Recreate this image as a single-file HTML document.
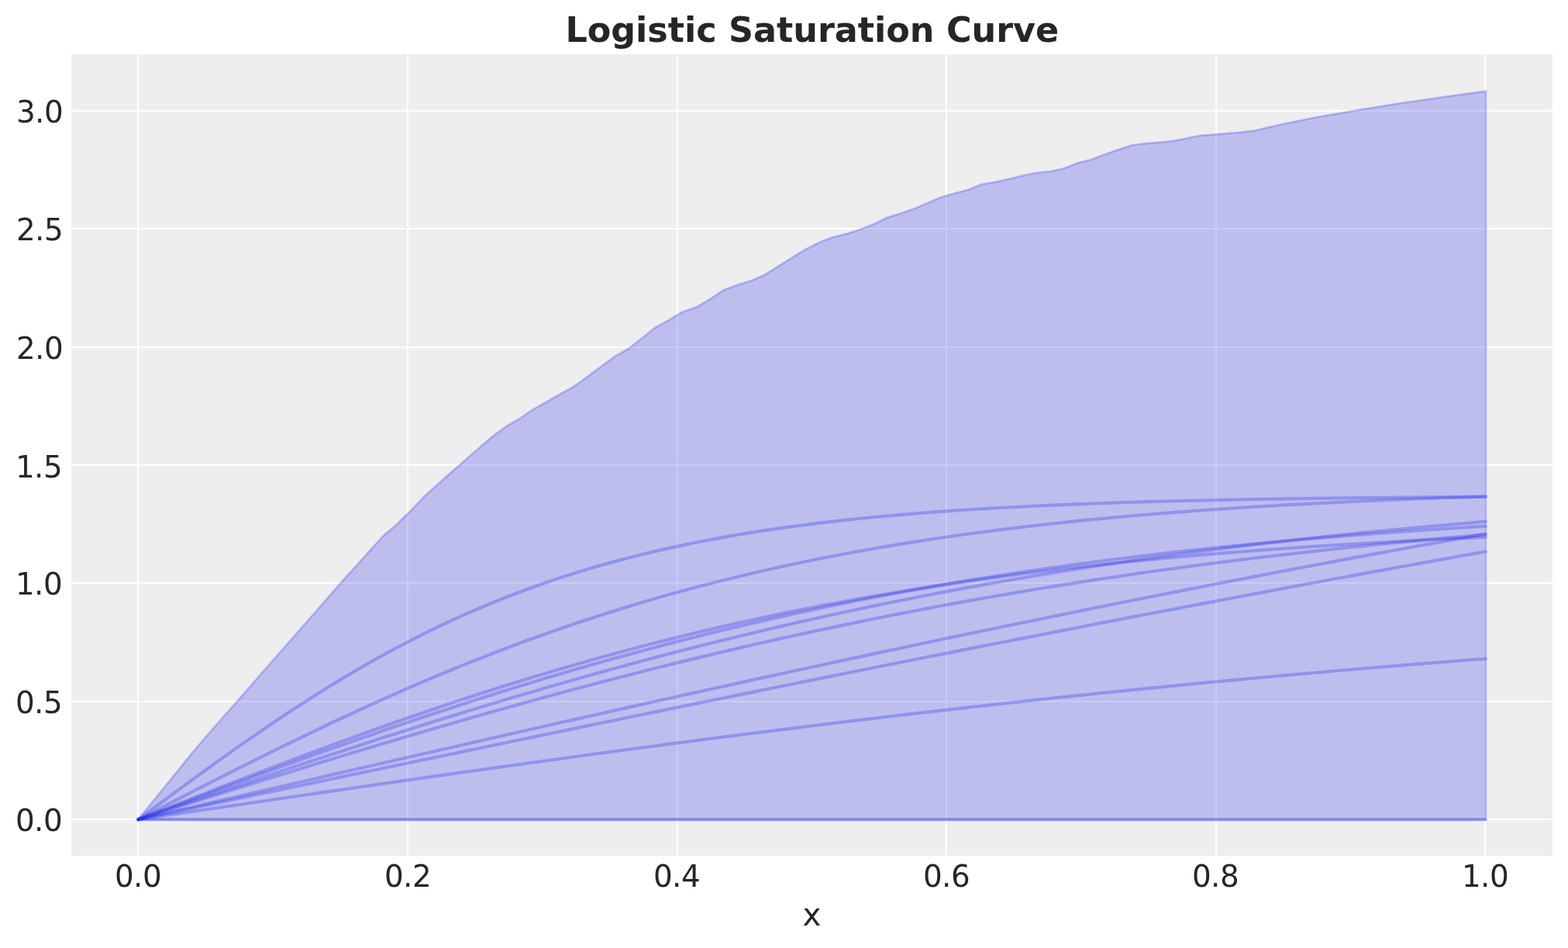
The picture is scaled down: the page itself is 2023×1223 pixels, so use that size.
<!DOCTYPE html>
<html lang="en">
<head>
<meta charset="utf-8">
<title>Logistic Saturation Curve</title>
<style>
html,body{margin:0;padding:0;background:#ffffff;}
body{width:2023px;height:1223px;overflow:hidden;}
svg{display:block;}
</style>
</head>
<body>
<svg width="2023" height="1223" viewBox="0 0 2023 1223">
<rect x="0" y="0" width="2023" height="1223" fill="#ffffff"/>
<rect x="92.0" y="70.0" width="1911.0" height="1034.0" fill="#eeeeee"/>
<g fill="#ffffff"><rect x="177" y="70.0" width="2" height="1034.0"/><rect x="525" y="70.0" width="2" height="1034.0"/><rect x="873" y="70.0" width="2" height="1034.0"/><rect x="1220" y="70.0" width="2" height="1034.0"/><rect x="1568" y="70.0" width="2" height="1034.0"/><rect x="1915" y="70.0" width="2" height="1034.0"/><rect x="92.0" y="1056" width="1911.0" height="2"/><rect x="92.0" y="904" width="1911.0" height="2"/><rect x="92.0" y="751" width="1911.0" height="2"/><rect x="92.0" y="599" width="1911.0" height="2"/><rect x="92.0" y="447" width="1911.0" height="2"/><rect x="92.0" y="294" width="1911.0" height="2"/><rect x="92.0" y="142" width="1911.0" height="2"/></g>
<path d="M178.5 1057.2 L196.06 1035.46 L213.62 1013.76 L231.18 992.09 L248.74 970.45 L266.3 949.78 L283.86 929.66 L301.42 909.85 L318.98 889.96 L336.55 869.65 L354.11 849.56 L371.67 829.66 L389.23 809.75 L406.79 789.7 L424.35 769.58 L441.91 749.54 L459.47 730.08 L477.03 710.61 L494.59 691.35 L512.15 676.11 L529.71 659.22 L547.27 640.4 L564.83 624.68 L582.39 609.09 L599.95 593.67 L617.52 578.49 L635.08 563.35 L652.64 550.36 L670.2 540.16 L687.76 528.2 L705.32 518.19 L722.88 508.18 L740.44 498.62 L758 485.76 L775.56 472.89 L793.12 460.03 L810.68 449.99 L828.24 436.24 L845.8 422.18 L863.36 412.63 L880.92 402.24 L898.48 396.18 L916.05 385.84 L933.61 374.35 L951.17 367.66 L968.73 362.33 L986.29 354.72 L1003.85 343.57 L1021.41 332.7 L1038.97 321.85 L1056.53 313.07 L1074.09 306.2 L1091.65 301.81 L1109.21 296.28 L1126.77 289.4 L1144.33 280.81 L1161.89 275.28 L1179.45 269.24 L1197.02 261.66 L1214.58 254.22 L1232.14 249.34 L1249.7 244.55 L1267.26 237.69 L1284.82 234.58 L1302.38 230.84 L1319.94 226.48 L1337.5 222.94 L1355.06 221.17 L1372.62 217.37 L1390.18 210.24 L1407.74 205.88 L1425.3 199.3 L1442.86 193.1 L1460.42 187.42 L1477.98 185.04 L1495.55 183.54 L1513.11 181.89 L1530.67 178.46 L1548.23 174.76 L1565.79 173.54 L1583.35 172.05 L1600.91 170.62 L1618.47 168.55 L1636.03 164.35 L1653.59 160.46 L1671.15 156.77 L1688.71 153.08 L1706.27 149.98 L1723.83 146.78 L1741.39 143.88 L1758.95 140.8 L1776.52 138.09 L1794.08 135.2 L1811.64 132.49 L1829.2 129.9 L1846.76 127.38 L1864.32 124.86 L1881.88 122.35 L1899.44 120 L1917 117.65 L1917 1057.65 L178.5 1057.65 Z" fill="#2a2eec" fill-opacity="0.25" stroke="#2a2eec" stroke-opacity="0.25" stroke-width="2.78" stroke-linejoin="miter"/>
<g fill="none" stroke="#2a2eec" stroke-opacity="0.3" stroke-width="4.17" stroke-linecap="round" stroke-linejoin="round"><path d="M178.5 1057.2 L196.06 1044.21 L213.62 1031.25 L231.17 1018.33 L248.73 1005.5 L266.29 992.75 L283.85 980.14 L301.4 967.66 L318.96 955.35 L336.52 943.22 L354.08 931.3 L371.63 919.6 L389.19 908.13 L406.75 896.92 L424.31 885.97 L441.86 875.3 L459.42 864.91 L476.98 854.81 L494.54 845.01 L512.09 835.52 L529.65 826.33 L547.21 817.46 L564.77 808.89 L582.32 800.64 L599.88 792.69 L617.44 785.05 L635 777.71 L652.55 770.67 L670.11 763.93 L687.67 757.47 L705.23 751.29 L722.78 745.39 L740.34 739.76 L757.9 734.38 L775.46 729.26 L793.02 724.38 L810.57 719.74 L828.13 715.32 L845.69 711.12 L863.25 707.13 L880.8 703.35 L898.36 699.76 L915.92 696.35 L933.48 693.12 L951.03 690.07 L968.59 687.17 L986.15 684.43 L1003.71 681.84 L1021.26 679.39 L1038.82 677.07 L1056.38 674.88 L1073.94 672.81 L1091.49 670.85 L1109.05 669.01 L1126.61 667.27 L1144.17 665.62 L1161.72 664.07 L1179.28 662.61 L1196.84 661.23 L1214.4 659.93 L1231.95 658.7 L1249.51 657.54 L1267.07 656.45 L1284.63 655.43 L1302.18 654.46 L1319.74 653.55 L1337.3 652.69 L1354.86 651.89 L1372.42 651.13 L1389.97 650.41 L1407.53 649.74 L1425.09 649.1 L1442.65 648.51 L1460.2 647.94 L1477.76 647.42 L1495.32 646.92 L1512.88 646.45 L1530.43 646.01 L1547.99 645.6 L1565.55 645.21 L1583.11 644.84 L1600.66 644.5 L1618.22 644.17 L1635.78 643.87 L1653.34 643.58 L1670.89 643.31 L1688.45 643.06 L1706.01 642.82 L1723.57 642.6 L1741.12 642.38 L1758.68 642.19 L1776.24 642 L1793.8 641.83 L1811.35 641.66 L1828.91 641.51 L1846.47 641.36 L1864.03 641.22 L1881.58 641.1 L1899.14 640.97 L1916.7 640.86"/><path d="M178.5 1057.2 L196.06 1048.17 L213.62 1039.14 L231.17 1030.13 L248.73 1021.15 L266.29 1012.2 L283.85 1003.28 L301.4 994.41 L318.96 985.6 L336.52 976.85 L354.08 968.17 L371.63 959.56 L389.19 951.03 L406.75 942.59 L424.31 934.25 L441.86 926.01 L459.42 917.87 L476.98 909.84 L494.54 901.92 L512.09 894.13 L529.65 886.46 L547.21 878.91 L564.77 871.5 L582.32 864.22 L599.88 857.07 L617.44 850.07 L635 843.2 L652.55 836.48 L670.11 829.9 L687.67 823.46 L705.23 817.17 L722.78 811.02 L740.34 805.03 L757.9 799.17 L775.46 793.47 L793.02 787.91 L810.57 782.49 L828.13 777.22 L845.69 772.09 L863.25 767.1 L880.8 762.24 L898.36 757.53 L915.92 752.96 L933.48 748.51 L951.03 744.2 L968.59 740.02 L986.15 735.97 L1003.71 732.04 L1021.26 728.24 L1038.82 724.55 L1056.38 720.99 L1073.94 717.54 L1091.49 714.2 L1109.05 710.97 L1126.61 707.85 L1144.17 704.83 L1161.72 701.92 L1179.28 699.11 L1196.84 696.39 L1214.4 693.77 L1231.95 691.23 L1249.51 688.79 L1267.07 686.44 L1284.63 684.16 L1302.18 681.97 L1319.74 679.86 L1337.3 677.82 L1354.86 675.86 L1372.42 673.97 L1389.97 672.15 L1407.53 670.4 L1425.09 668.71 L1442.65 667.09 L1460.2 665.52 L1477.76 664.02 L1495.32 662.57 L1512.88 661.17 L1530.43 659.83 L1547.99 658.54 L1565.55 657.3 L1583.11 656.11 L1600.66 654.96 L1618.22 653.86 L1635.78 652.8 L1653.34 651.78 L1670.89 650.8 L1688.45 649.86 L1706.01 648.96 L1723.57 648.09 L1741.12 647.25 L1758.68 646.45 L1776.24 645.68 L1793.8 644.94 L1811.35 644.23 L1828.91 643.54 L1846.47 642.89 L1864.03 642.26 L1881.58 641.65 L1899.14 641.07 L1916.7 640.52"/><path d="M178.5 1057.2 L196.06 1051.22 L213.62 1045.24 L231.17 1039.26 L248.73 1033.29 L266.29 1027.33 L283.85 1021.38 L301.4 1015.44 L318.96 1009.52 L336.52 1003.62 L354.08 997.74 L371.63 991.87 L389.19 986.03 L406.75 980.22 L424.31 974.43 L441.86 968.68 L459.42 962.95 L476.98 957.26 L494.54 951.6 L512.09 945.98 L529.65 940.4 L547.21 934.86 L564.77 929.36 L582.32 923.9 L599.88 918.49 L617.44 913.13 L635 907.81 L652.55 902.54 L670.11 897.32 L687.67 892.15 L705.23 887.04 L722.78 881.97 L740.34 876.97 L757.9 872.01 L775.46 867.12 L793.02 862.28 L810.57 857.5 L828.13 852.78 L845.69 848.11 L863.25 843.51 L880.8 838.97 L898.36 834.49 L915.92 830.06 L933.48 825.71 L951.03 821.41 L968.59 817.17 L986.15 813 L1003.71 808.89 L1021.26 804.84 L1038.82 800.86 L1056.38 796.93 L1073.94 793.07 L1091.49 789.28 L1109.05 785.54 L1126.61 781.87 L1144.17 778.26 L1161.72 774.71 L1179.28 771.22 L1196.84 767.79 L1214.4 764.42 L1231.95 761.12 L1249.51 757.87 L1267.07 754.69 L1284.63 751.56 L1302.18 748.49 L1319.74 745.48 L1337.3 742.52 L1354.86 739.63 L1372.42 736.78 L1389.97 734 L1407.53 731.27 L1425.09 728.59 L1442.65 725.97 L1460.2 723.4 L1477.76 720.89 L1495.32 718.42 L1512.88 716.01 L1530.43 713.64 L1547.99 711.33 L1565.55 709.07 L1583.11 706.85 L1600.66 704.68 L1618.22 702.56 L1635.78 700.48 L1653.34 698.45 L1670.89 696.46 L1688.45 694.52 L1706.01 692.62 L1723.57 690.76 L1741.12 688.95 L1758.68 687.17 L1776.24 685.43 L1793.8 683.74 L1811.35 682.08 L1828.91 680.46 L1846.47 678.88 L1864.03 677.34 L1881.58 675.83 L1899.14 674.35 L1916.7 672.91"/><path d="M178.5 1057.2 L196.06 1050.66 L213.62 1044.13 L231.17 1037.6 L248.73 1031.09 L266.29 1024.58 L283.85 1018.09 L301.4 1011.63 L318.96 1005.18 L336.52 998.76 L354.08 992.37 L371.63 986.01 L389.19 979.68 L406.75 973.4 L424.31 967.15 L441.86 960.94 L459.42 954.79 L476.98 948.67 L494.54 942.61 L512.09 936.61 L529.65 930.66 L547.21 924.76 L564.77 918.93 L582.32 913.16 L599.88 907.45 L617.44 901.8 L635 896.23 L652.55 890.72 L670.11 885.28 L687.67 879.91 L705.23 874.62 L722.78 869.4 L740.34 864.25 L757.9 859.18 L775.46 854.18 L793.02 849.27 L810.57 844.43 L828.13 839.67 L845.69 834.98 L863.25 830.38 L880.8 825.86 L898.36 821.41 L915.92 817.05 L933.48 812.76 L951.03 808.56 L968.59 804.43 L986.15 800.39 L1003.71 796.42 L1021.26 792.53 L1038.82 788.72 L1056.38 784.99 L1073.94 781.33 L1091.49 777.75 L1109.05 774.25 L1126.61 770.82 L1144.17 767.47 L1161.72 764.19 L1179.28 760.98 L1196.84 757.85 L1214.4 754.78 L1231.95 751.79 L1249.51 748.87 L1267.07 746.01 L1284.63 743.22 L1302.18 740.5 L1319.74 737.85 L1337.3 735.25 L1354.86 732.72 L1372.42 730.26 L1389.97 727.85 L1407.53 725.51 L1425.09 723.22 L1442.65 720.99 L1460.2 718.82 L1477.76 716.7 L1495.32 714.64 L1512.88 712.63 L1530.43 710.68 L1547.99 708.77 L1565.55 706.92 L1583.11 705.11 L1600.66 703.36 L1618.22 701.65 L1635.78 699.98 L1653.34 698.36 L1670.89 696.79 L1688.45 695.26 L1706.01 693.77 L1723.57 692.32 L1741.12 690.91 L1758.68 689.54 L1776.24 688.21 L1793.8 686.91 L1811.35 685.65 L1828.91 684.43 L1846.47 683.24 L1864.03 682.09 L1881.58 680.97 L1899.14 679.88 L1916.7 678.82"/><path d="M178.5 1057.2 L196.06 1051.66 L213.62 1046.12 L231.17 1040.59 L248.73 1035.06 L266.29 1029.54 L283.85 1024.03 L301.4 1018.53 L318.96 1013.04 L336.52 1007.57 L354.08 1002.11 L371.63 996.67 L389.19 991.25 L406.75 985.85 L424.31 980.48 L441.86 975.13 L459.42 969.8 L476.98 964.51 L494.54 959.24 L512.09 954.01 L529.65 948.8 L547.21 943.63 L564.77 938.5 L582.32 933.4 L599.88 928.34 L617.44 923.32 L635 918.34 L652.55 913.39 L670.11 908.5 L687.67 903.64 L705.23 898.83 L722.78 894.07 L740.34 889.35 L757.9 884.68 L775.46 880.06 L793.02 875.48 L810.57 870.96 L828.13 866.48 L845.69 862.06 L863.25 857.69 L880.8 853.37 L898.36 849.1 L915.92 844.89 L933.48 840.73 L951.03 836.62 L968.59 832.57 L986.15 828.57 L1003.71 824.62 L1021.26 820.73 L1038.82 816.9 L1056.38 813.12 L1073.94 809.39 L1091.49 805.72 L1109.05 802.11 L1126.61 798.55 L1144.17 795.04 L1161.72 791.59 L1179.28 788.19 L1196.84 784.85 L1214.4 781.56 L1231.95 778.33 L1249.51 775.15 L1267.07 772.02 L1284.63 768.95 L1302.18 765.93 L1319.74 762.96 L1337.3 760.04 L1354.86 757.17 L1372.42 754.36 L1389.97 751.6 L1407.53 748.88 L1425.09 746.22 L1442.65 743.6 L1460.2 741.04 L1477.76 738.52 L1495.32 736.05 L1512.88 733.63 L1530.43 731.25 L1547.99 728.92 L1565.55 726.63 L1583.11 724.39 L1600.66 722.2 L1618.22 720.05 L1635.78 717.94 L1653.34 715.87 L1670.89 713.85 L1688.45 711.86 L1706.01 709.92 L1723.57 708.02 L1741.12 706.15 L1758.68 704.33 L1776.24 702.54 L1793.8 700.79 L1811.35 699.08 L1828.91 697.41 L1846.47 695.77 L1864.03 694.16 L1881.58 692.59 L1899.14 691.06 L1916.7 689.55"/><path d="M178.5 1057.2 L196.06 1053.13 L213.62 1049.07 L231.17 1045.01 L248.73 1040.94 L266.29 1036.88 L283.85 1032.82 L301.4 1028.76 L318.96 1024.7 L336.52 1020.64 L354.08 1016.59 L371.63 1012.53 L389.19 1008.48 L406.75 1004.44 L424.31 1000.39 L441.86 996.35 L459.42 992.32 L476.98 988.28 L494.54 984.25 L512.09 980.23 L529.65 976.21 L547.21 972.19 L564.77 968.18 L582.32 964.17 L599.88 960.17 L617.44 956.18 L635 952.19 L652.55 948.2 L670.11 944.22 L687.67 940.25 L705.23 936.29 L722.78 932.33 L740.34 928.38 L757.9 924.43 L775.46 920.5 L793.02 916.57 L810.57 912.65 L828.13 908.74 L845.69 904.83 L863.25 900.93 L880.8 897.05 L898.36 893.17 L915.92 889.3 L933.48 885.44 L951.03 881.59 L968.59 877.74 L986.15 873.91 L1003.71 870.09 L1021.26 866.28 L1038.82 862.48 L1056.38 858.69 L1073.94 854.91 L1091.49 851.14 L1109.05 847.38 L1126.61 843.63 L1144.17 839.9 L1161.72 836.17 L1179.28 832.46 L1196.84 828.76 L1214.4 825.07 L1231.95 821.39 L1249.51 817.73 L1267.07 814.07 L1284.63 810.43 L1302.18 806.81 L1319.74 803.19 L1337.3 799.59 L1354.86 796.01 L1372.42 792.43 L1389.97 788.87 L1407.53 785.32 L1425.09 781.79 L1442.65 778.27 L1460.2 774.76 L1477.76 771.27 L1495.32 767.79 L1512.88 764.33 L1530.43 760.88 L1547.99 757.44 L1565.55 754.02 L1583.11 750.62 L1600.66 747.22 L1618.22 743.85 L1635.78 740.49 L1653.34 737.14 L1670.89 733.81 L1688.45 730.49 L1706.01 727.19 L1723.57 723.91 L1741.12 720.64 L1758.68 717.39 L1776.24 714.15 L1793.8 710.93 L1811.35 707.72 L1828.91 704.53 L1846.47 701.35 L1864.03 698.19 L1881.58 695.05 L1899.14 691.92 L1916.7 688.81"/><path d="M178.5 1057.2 L196.06 1050.31 L213.62 1043.43 L231.17 1036.55 L248.73 1029.69 L266.29 1022.84 L283.85 1016.02 L301.4 1009.22 L318.96 1002.45 L336.52 995.72 L354.08 989.03 L371.63 982.37 L389.19 975.76 L406.75 969.21 L424.31 962.7 L441.86 956.25 L459.42 949.87 L476.98 943.54 L494.54 937.28 L512.09 931.09 L529.65 924.97 L547.21 918.93 L564.77 912.96 L582.32 907.07 L599.88 901.27 L617.44 895.54 L635 889.9 L652.55 884.35 L670.11 878.89 L687.67 873.51 L705.23 868.23 L722.78 863.03 L740.34 857.93 L757.9 852.93 L775.46 848.01 L793.02 843.19 L810.57 838.47 L828.13 833.84 L845.69 829.3 L863.25 824.86 L880.8 820.51 L898.36 816.26 L915.92 812.1 L933.48 808.03 L951.03 804.06 L968.59 800.18 L986.15 796.38 L1003.71 792.68 L1021.26 789.07 L1038.82 785.55 L1056.38 782.12 L1073.94 778.77 L1091.49 775.5 L1109.05 772.32 L1126.61 769.23 L1144.17 766.21 L1161.72 763.27 L1179.28 760.42 L1196.84 757.64 L1214.4 754.93 L1231.95 752.3 L1249.51 749.75 L1267.07 747.26 L1284.63 744.85 L1302.18 742.5 L1319.74 740.22 L1337.3 738.01 L1354.86 735.86 L1372.42 733.78 L1389.97 731.75 L1407.53 729.79 L1425.09 727.88 L1442.65 726.03 L1460.2 724.24 L1477.76 722.5 L1495.32 720.82 L1512.88 719.18 L1530.43 717.6 L1547.99 716.06 L1565.55 714.58 L1583.11 713.14 L1600.66 711.74 L1618.22 710.39 L1635.78 709.08 L1653.34 707.81 L1670.89 706.59 L1688.45 705.4 L1706.01 704.25 L1723.57 703.13 L1741.12 702.06 L1758.68 701.01 L1776.24 700.01 L1793.8 699.03 L1811.35 698.08 L1828.91 697.17 L1846.47 696.29 L1864.03 695.43 L1881.58 694.61 L1899.14 693.81 L1916.7 693.03"/><path d="M178.5 1057.2 L196.06 1053.52 L213.62 1049.83 L231.17 1046.15 L248.73 1042.47 L266.29 1038.79 L283.85 1035.11 L301.4 1031.43 L318.96 1027.75 L336.52 1024.07 L354.08 1020.39 L371.63 1016.72 L389.19 1013.04 L406.75 1009.37 L424.31 1005.7 L441.86 1002.03 L459.42 998.36 L476.98 994.7 L494.54 991.03 L512.09 987.37 L529.65 983.71 L547.21 980.05 L564.77 976.4 L582.32 972.75 L599.88 969.1 L617.44 965.45 L635 961.81 L652.55 958.17 L670.11 954.54 L687.67 950.9 L705.23 947.28 L722.78 943.65 L740.34 940.03 L757.9 936.41 L775.46 932.8 L793.02 929.19 L810.57 925.58 L828.13 921.98 L845.69 918.38 L863.25 914.79 L880.8 911.21 L898.36 907.62 L915.92 904.05 L933.48 900.47 L951.03 896.91 L968.59 893.34 L986.15 889.79 L1003.71 886.24 L1021.26 882.69 L1038.82 879.15 L1056.38 875.62 L1073.94 872.09 L1091.49 868.56 L1109.05 865.05 L1126.61 861.54 L1144.17 858.03 L1161.72 854.54 L1179.28 851.05 L1196.84 847.56 L1214.4 844.08 L1231.95 840.61 L1249.51 837.15 L1267.07 833.69 L1284.63 830.24 L1302.18 826.8 L1319.74 823.36 L1337.3 819.94 L1354.86 816.52 L1372.42 813.1 L1389.97 809.7 L1407.53 806.3 L1425.09 802.91 L1442.65 799.53 L1460.2 796.15 L1477.76 792.79 L1495.32 789.43 L1512.88 786.08 L1530.43 782.74 L1547.99 779.41 L1565.55 776.08 L1583.11 772.77 L1600.66 769.46 L1618.22 766.16 L1635.78 762.87 L1653.34 759.59 L1670.89 756.32 L1688.45 753.06 L1706.01 749.81 L1723.57 746.56 L1741.12 743.33 L1758.68 740.1 L1776.24 736.88 L1793.8 733.68 L1811.35 730.48 L1828.91 727.29 L1846.47 724.11 L1864.03 720.95 L1881.58 717.79 L1899.14 714.64 L1916.7 711.5"/><path d="M178.5 1057.2 L196.06 1054.61 L213.62 1052.02 L231.17 1049.43 L248.73 1046.84 L266.29 1044.26 L283.85 1041.67 L301.4 1039.09 L318.96 1036.51 L336.52 1033.94 L354.08 1031.37 L371.63 1028.8 L389.19 1026.23 L406.75 1023.67 L424.31 1021.12 L441.86 1018.57 L459.42 1016.03 L476.98 1013.49 L494.54 1010.96 L512.09 1008.44 L529.65 1005.92 L547.21 1003.41 L564.77 1000.91 L582.32 998.42 L599.88 995.93 L617.44 993.46 L635 990.99 L652.55 988.53 L670.11 986.09 L687.67 983.65 L705.23 981.22 L722.78 978.81 L740.34 976.41 L757.9 974.01 L775.46 971.63 L793.02 969.26 L810.57 966.9 L828.13 964.56 L845.69 962.23 L863.25 959.91 L880.8 957.6 L898.36 955.31 L915.92 953.03 L933.48 950.77 L951.03 948.52 L968.59 946.28 L986.15 944.06 L1003.71 941.85 L1021.26 939.66 L1038.82 937.48 L1056.38 935.32 L1073.94 933.17 L1091.49 931.04 L1109.05 928.93 L1126.61 926.83 L1144.17 924.74 L1161.72 922.68 L1179.28 920.62 L1196.84 918.59 L1214.4 916.57 L1231.95 914.57 L1249.51 912.58 L1267.07 910.62 L1284.63 908.66 L1302.18 906.73 L1319.74 904.81 L1337.3 902.91 L1354.86 901.03 L1372.42 899.16 L1389.97 897.31 L1407.53 895.48 L1425.09 893.67 L1442.65 891.87 L1460.2 890.09 L1477.76 888.33 L1495.32 886.58 L1512.88 884.85 L1530.43 883.14 L1547.99 881.45 L1565.55 879.78 L1583.11 878.12 L1600.66 876.48 L1618.22 874.85 L1635.78 873.25 L1653.34 871.66 L1670.89 870.09 L1688.45 868.53 L1706.01 866.99 L1723.57 865.47 L1741.12 863.97 L1758.68 862.48 L1776.24 861.01 L1793.8 859.56 L1811.35 858.12 L1828.91 856.7 L1846.47 855.3 L1864.03 853.91 L1881.58 852.54 L1899.14 851.19 L1916.7 849.85"/><path d="M178.5 1057.2 L196.06 1057.2 L213.62 1057.2 L231.17 1057.2 L248.73 1057.2 L266.29 1057.2 L283.85 1057.2 L301.4 1057.19 L318.96 1057.19 L336.52 1057.19 L354.08 1057.19 L371.63 1057.19 L389.19 1057.19 L406.75 1057.19 L424.31 1057.19 L441.86 1057.19 L459.42 1057.19 L476.98 1057.19 L494.54 1057.19 L512.09 1057.19 L529.65 1057.18 L547.21 1057.18 L564.77 1057.18 L582.32 1057.18 L599.88 1057.18 L617.44 1057.18 L635 1057.18 L652.55 1057.18 L670.11 1057.18 L687.67 1057.18 L705.23 1057.18 L722.78 1057.18 L740.34 1057.18 L757.9 1057.18 L775.46 1057.17 L793.02 1057.17 L810.57 1057.17 L828.13 1057.17 L845.69 1057.17 L863.25 1057.17 L880.8 1057.17 L898.36 1057.17 L915.92 1057.17 L933.48 1057.17 L951.03 1057.17 L968.59 1057.17 L986.15 1057.17 L1003.71 1057.17 L1021.26 1057.16 L1038.82 1057.16 L1056.38 1057.16 L1073.94 1057.16 L1091.49 1057.16 L1109.05 1057.16 L1126.61 1057.16 L1144.17 1057.16 L1161.72 1057.16 L1179.28 1057.16 L1196.84 1057.16 L1214.4 1057.16 L1231.95 1057.16 L1249.51 1057.16 L1267.07 1057.15 L1284.63 1057.15 L1302.18 1057.15 L1319.74 1057.15 L1337.3 1057.15 L1354.86 1057.15 L1372.42 1057.15 L1389.97 1057.15 L1407.53 1057.15 L1425.09 1057.15 L1442.65 1057.15 L1460.2 1057.15 L1477.76 1057.15 L1495.32 1057.15 L1512.88 1057.15 L1530.43 1057.14 L1547.99 1057.14 L1565.55 1057.14 L1583.11 1057.14 L1600.66 1057.14 L1618.22 1057.14 L1635.78 1057.14 L1653.34 1057.14 L1670.89 1057.14 L1688.45 1057.14 L1706.01 1057.14 L1723.57 1057.14 L1741.12 1057.14 L1758.68 1057.14 L1776.24 1057.14 L1793.8 1057.13 L1811.35 1057.13 L1828.91 1057.13 L1846.47 1057.13 L1864.03 1057.13 L1881.58 1057.13 L1899.14 1057.13 L1916.7 1057.13"/></g>
<g font-family="'DejaVu Sans', 'Liberation Sans', sans-serif" font-size="38.89px" fill="#262626"><text x="20.1 44.1 56.1" y="1072">0.0</text><text x="20.1 44.1 56.1" y="920">0.5</text><text x="20.1 44.1 56.1" y="767">1.0</text><text x="20.1 44.1 56.1" y="616">1.5</text><text x="21.1 45.1 57.1" y="463">2.0</text><text x="21.1 45.1 57.1" y="310">2.5</text><text x="21.1 45.1 57.1" y="158">3.0</text><text x="147.9 171.9 183.9" y="1143.5">0.0</text><text x="495.9 519.9 531.9" y="1143.5">0.2</text><text x="842.9 866.9 878.9" y="1143.5">0.4</text><text x="1190.9 1214.9 1226.9" y="1143.5">0.6</text><text x="1537.9 1561.9 1573.9" y="1143.5">0.8</text><text x="1885.9 1909.9 1921.9" y="1143.5">1.0</text></g>
<text x="1047.5" y="1193.8" text-anchor="middle" font-family="'DejaVu Sans', 'Liberation Sans', sans-serif" font-size="40.4px" fill="#262626">x</text>
<text x="1047.8" y="54.3" text-anchor="middle" font-family="'DejaVu Sans', 'Liberation Sans', sans-serif" font-weight="bold" font-size="44.44px" fill="#262626">Logistic Saturation Curve</text>
</svg>
</body>
</html>
